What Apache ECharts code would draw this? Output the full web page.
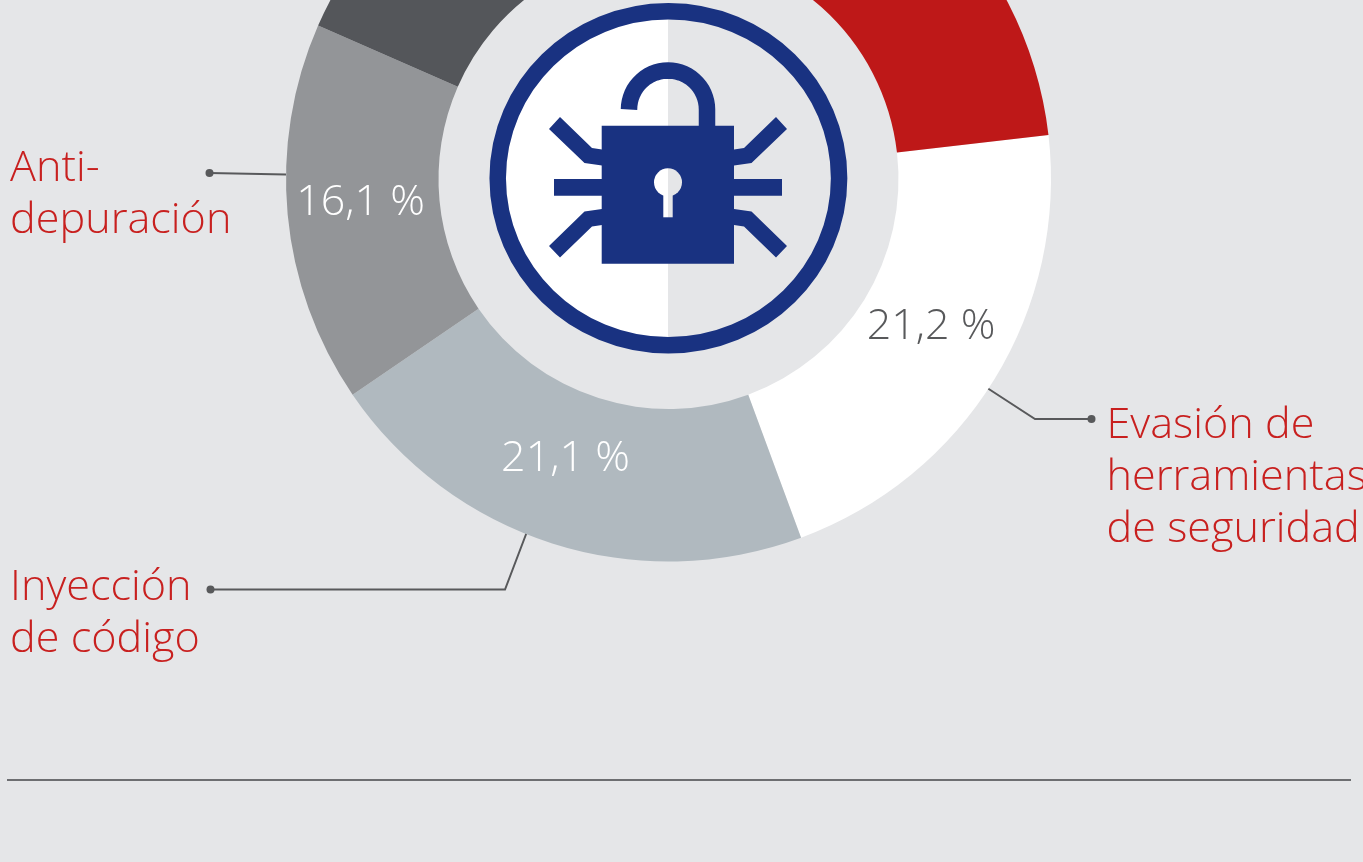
<!DOCTYPE html>
<html>
<head>
<meta charset="utf-8">
<title>Técnicas de malware</title>
<style>
    html, body { margin: 0; padding: 0; background: #e5e6e8; }
    #chart { width: 1363px; height: 862px; }
</style>
<script src="https://cdn.jsdelivr.net/npm/echarts@6/dist/echarts.min.js"></script>
</head>
<body>
<div id="chart"></div>
<script>
    // the two top slices are cut off by the picture, their names and shares are estimates
    let sliceNames = ['Evasión de\nherramientas\nde seguridad', 'Inyección\nde código', 'Anti-\ndepuración', 'Oculta 1', 'Oculta 2'];
    let sliceValues = [21.2, 21.1, 16.1, 18.5, 23.1];
    let sliceColors = ['#ffffff', '#b0b9bf', '#939598', '#54565a', '#be1818'];
    let labelColors = ['#58595b', '#ffffff', '#ffffff'];
    let labelOffsets = [[-1, -14], [-9, -15], [0, -5]];

    let bgColor = '#e5e6e8';
    let blue = '#193281';
    let lineColor = '#58595b';
    let red = '#c8201f';
    let fontFamily = '"Open Sans", sans-serif';

    function nameText(name, x, y) {
        return {
            type: 'text',
            style: {
                x: x,
                y: y,
                text: name,
                fill: red,
                font: '300 43.2px ' + fontFamily,
                lineHeight: 52,
                verticalAlign: 'top'
            }
        };
    }
    function leader(points) {
        return {
            type: 'polyline',
            shape: { points: points },
            style: { stroke: lineColor, lineWidth: 2, fill: null }
        };
    }
    function dot(x, y) {
        return {
            type: 'circle',
            shape: { cx: x, cy: y, r: 4 },
            style: { fill: lineColor }
        };
    }
    function iconPoly(points) {
        return {
            type: 'polygon',
            shape: { points: points },
            style: { fill: blue }
        };
    }
    function mirror(points) {
        return points.map(function (p) {
            return [1336 - p[0], p[1]];
        });
    }
    function halfDisc(cy, r, start, end, color) {
        return {
            type: 'sector',
            shape: { cx: 668, cy: cy, r: r, r0: 0, startAngle: start, endAngle: end },
            style: { fill: color }
        };
    }
    // padlock shackle, open on the left
    function shacklePoints() {
        let pts = [[629, 109.5]];
        for (let a = 186; a <= 354; a += 6) {
            pts.push([668 + 39 * Math.cos(a * Math.PI / 180), 109.5 + 39 * Math.sin(a * Math.PI / 180)]);
        }
        pts.push([707, 109.5]);
        pts.push([707, 127]);
        return pts;
    }

    let legTop = [[560, 117], [549, 129], [584.5, 163], [602, 165.5], [602, 149.5], [592, 148]];
    let legBottom = [[560, 257.5], [549, 246], [584.5, 211.5], [602, 209], [602, 225], [592, 226.5]];
    let legMiddle = [[554, 179], [602, 179], [602, 195.7], [554, 195.7]];

    let graphics = [
        // centre badge
        halfDisc(178.3, 162, Math.PI / 2, Math.PI * 1.5, '#ffffff'),
        {
            type: 'ellipse',
            shape: { cx: 668.4, cy: 178.3, rx: 170.7, ry: 167 },
            style: { stroke: blue, lineWidth: 16.5, fill: null }
        },
        {
            type: 'rect',
            shape: { x: 601.7, y: 125.7, width: 132.3, height: 138 },
            style: { fill: blue }
        },
        {
            type: 'polyline',
            shape: { points: shacklePoints() },
            style: { stroke: blue, lineWidth: 16.5, fill: null }
        },
        iconPoly(legTop), iconPoly(legMiddle), iconPoly(legBottom),
        iconPoly(mirror(legTop)), iconPoly(mirror(legMiddle)), iconPoly(mirror(legBottom)),
        // keyhole, white on the left and background on the right like the badge
        halfDisc(182.3, 14, Math.PI / 2, Math.PI * 1.5, '#ffffff'),
        halfDisc(182.3, 14, -Math.PI / 2, Math.PI / 2, bgColor),
        {
            type: 'rect',
            shape: { x: 663.3, y: 190, width: 4.7, height: 27.3 },
            style: { fill: '#ffffff' }
        },
        {
            type: 'rect',
            shape: { x: 668, y: 190, width: 4.7, height: 27.3 },
            style: { fill: bgColor }
        },
        // leader lines and names
        leader([[209.5, 173], [286, 174.5]]), dot(209.5, 173),
        leader([[210.5, 589.5], [505, 589.5], [526.5, 533]]), dot(210.5, 589.5),
        leader([[1091.5, 419], [1035, 419], [988, 388.5]]), dot(1091.5, 419),
        nameText(sliceNames[0], 1106.5, 400),
        nameText(sliceNames[1], 10, 562),
        nameText(sliceNames[2], 10, 143),
        // bottom rule
        {
            type: 'line',
            shape: { x1: 7, y1: 780, x2: 1351, y2: 780 },
            style: { stroke: '#6d6e71', lineWidth: 2 }
        }
    ];

    let seriesData = sliceValues.map(function (v, i) {
        let item = {
            name: sliceNames[i],
            value: v,
            itemStyle: { color: sliceColors[i] }
        };
        if (i < labelColors.length) {
            item.label = {
                show: true,
                color: labelColors[i],
                offset: labelOffsets[i]
            };
        }
        return item;
    });

    let chart = echarts.init(document.getElementById('chart'));
    chart.setOption({
        backgroundColor: bgColor,
        animation: false,
        graphic: graphics,
        series: [
            {
                type: 'pie',
                center: [668.5, 179],
                radius: [230, 382.5],
                startAngle: 6.6,
                silent: true,
                label: {
                    show: false,
                    position: 'inside',
                    fontFamily: fontFamily,
                    fontWeight: 300,
                    fontSize: 43,
                    formatter: function (p) {
                        return String(p.value).replace('.', ',') + ' %';
                    }
                },
                labelLine: { show: false },
                data: seriesData
            }
        ]
    });
</script>
</body>
</html>
